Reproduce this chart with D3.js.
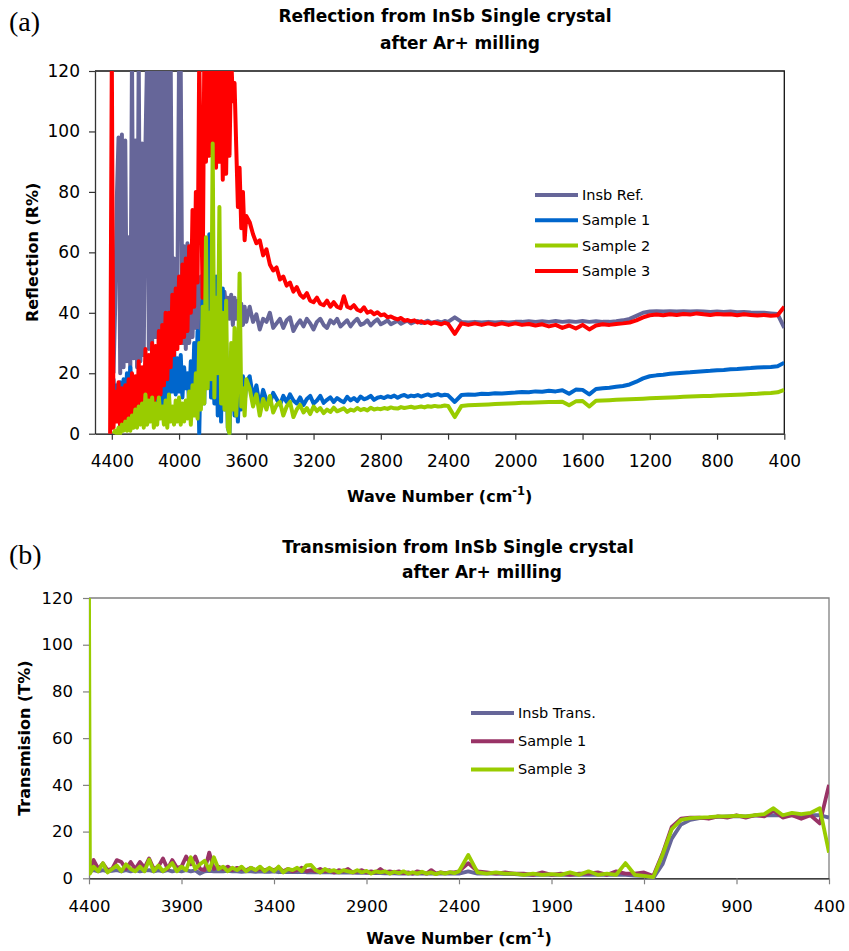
<!DOCTYPE html>
<html>
<head>
<meta charset="utf-8">
<script src="https://cdn.jsdelivr.net/npm/d3@7"></script>
<style>
    body { margin: 0; background: #fff; }
    svg text { font-family: "DejaVu Sans", sans-serif; fill: #000; }
</style>
</head>
<body>
<svg width="849" height="951"></svg>
<script>
// ---- panel (a): reflection, wave numbers in cm-1 ----
var reflWave = [
    4410,
    4400, 4390, 4380, 4370, 4360, 4350, 4340, 4330, 4320, 4310,
    4300, 4290, 4280, 4270, 4260, 4250, 4240, 4230, 4220, 4210,
    4200, 4190, 4180, 4170, 4160, 4150, 4140, 4130, 4120, 4110,
    4100, 4090, 4080, 4070, 4060, 4050, 4040, 4030, 4020, 4010,
    4000, 3990, 3980, 3970, 3960, 3950, 3940, 3930, 3920, 3910,
    3900, 3890, 3880, 3870, 3860, 3850, 3840, 3830, 3820, 3810,
    3800, 3790, 3780, 3770, 3760, 3750, 3740, 3730, 3720, 3710,
    3700, 3690, 3680, 3670, 3660, 3650, 3640, 3630, 3620, 3610,
    3600,
    3580, 3560, 3540, 3520, 3500, 3480, 3460, 3440, 3420, 3400,
    3380, 3360, 3340, 3320, 3300, 3280, 3260, 3240, 3220, 3200,
    3180, 3160, 3140, 3120, 3100, 3080, 3060, 3040, 3020, 3000,
    2980, 2960, 2940, 2920, 2900, 2880, 2860, 2840, 2820, 2800,
    2780, 2760, 2740, 2720, 2700, 2680, 2660, 2640, 2620, 2600,
    2580, 2560, 2540, 2520, 2500, 2480, 2460, 2440, 2420, 2400,
    2360, 2320, 2280, 2240, 2200, 2160, 2120, 2080, 2040, 2000,
    1960, 1920, 1880, 1840, 1800, 1760, 1720, 1680, 1640, 1600,
    1560, 1520, 1480, 1440, 1400, 1360, 1320, 1280, 1240, 1200,
    1160, 1120, 1080, 1040, 1000, 960, 920, 880, 840, 800,
    760, 720, 680, 640, 600, 560, 520, 480, 440, 400
];
var reflInsbRef = [
    null,
    null, 20, 42, 78, 98, 20, 99, 22, 97, 24,
    65, 20, 125, 25, 97, 22, 125, 24, 96, 26,
    95, 125, 28, 125, 30, 125, 32, 125, 30, 125,
    34, 125, 35, 125, 33, 125, 38, 58, 30, 45,
    125, 120, 30, 62, 28, 63, 30, 52, 32, 50,
    35, 50, 25, 52, 30, 48, 35, 50, 38, 48,
    40, 50, 38, 47, 41, 46, 39, 47, 42, 45,
    38, 46, 36, 45, 38, 44, 35, 43, 36, 42,
    37,
    42, 37, 39.5, 34.5, 38, 37, 40, 35, 36.5, 38,
    35, 37.5, 38.5, 34, 36, 37.5, 35.5, 38, 36.5, 34.5,
    37, 38, 36, 35, 37.5, 36.5, 38, 35.5, 36.5, 37.5,
    35.5, 37, 38, 36, 36.5, 37.5, 35.8, 37, 37.8, 36.2,
    36.8, 37.5, 36.2, 36.8, 37.4, 36.4, 37, 37.4, 36.5, 37,
    37.3, 36.6, 36.9, 37.4, 36.7, 37, 37.2, 36.8, 37.3, 37,
    38.5, 37, 36.8, 37, 36.8, 37, 36.8, 37, 36.8, 37,
    37, 37.2, 37, 37.2, 37, 37.3, 37, 37.2, 37, 37.3,
    37, 37.2, 37, 37, 37.2, 37.5, 38, 39, 40, 40.4,
    40.5, 40.4, 40.5, 40.4, 40.5, 40.4, 40.5, 40.4, 40.3, 40.4,
    40.3, 40.4, 40.2, 40.3, 40.1, 40, 40, 39.8, 39.6, 35
];
var reflSample1 = [
    null,
    5, 18, 6, 16, 8, 17, 5, 18, 7, 20,
    8, 22, 6, 15, 9, 18, 7, 19, 8, 16,
    6, 14, 5, 16, 7, 18, 6, 17, 8, 20,
    9, 22, 10, 24, 12, 26, 14, 29, 13, 25,
    14, 26, 12, 22, 15, 20, 10, 24, 8, 30,
    12, 34, 0, 28, 44, 10, 40, 20, 66, 12,
    30, 10, 52, 6, 50, 4, 48, 8, 30, 2,
    0, 20, 28, 6, 16, 4, 18, 8, 19, 10,
    17,
    19, 12, 16, 9, 14.5, 11, 10, 13.5, 11.5, 9.5,
    12.5, 10.5, 13, 11, 10, 12, 9.5, 11.5, 12.5, 10,
    11, 12.5, 10.2, 11.2, 12, 10.5, 11.8, 11, 10.4, 12.2,
    11, 11.8, 10.8, 12.3, 11.4, 11.8, 12.5, 11.2, 11.9, 12.2,
    11.8, 12.4, 12.1, 12.6, 11.9, 12.5, 12.8, 12.2, 12.6, 12.4,
    12.8, 12.3, 12.7, 13, 12.5, 12.8, 13.1, 12.6, 12.9, 12.7,
    10.5, 12.8, 13, 12.9, 13.2, 13.1, 13.4, 13.3, 13.5, 13.6,
    13.8, 13.7, 14, 13.9, 14.2, 14, 14.4, 13.2, 14.6, 14.5,
    13, 14.8, 15, 15.2, 15.5, 15.8, 16.3, 17.2, 18.3, 19,
    19.3, 19.5, 19.8, 20, 20.2, 20.3, 20.5, 20.7, 20.8, 21,
    21.1, 21.3, 21.4, 21.6, 21.7, 21.9, 22, 22.1, 22.3, 23.5
];
var reflSample2 = [
    null,
    null, 0, 1, 0, 2, 0, 3, 1, 4, 1,
    5, 1, 6, 2, 8, 2, 9, 3, 10, 2,
    13, 3, 11, 4, 12, 2, 10, 3, 12, 5,
    9, 3, 11, 2, 13, 4, 9, 3, 11, 4,
    12, 3, 10, 4, 11, 5, 14, 3, 16, 6,
    20, 5, 30, 8, 42, 10, 65, 15, 40, 18,
    96, 12, 45, 20, 75, 10, 40, 8, 44, 2,
    0, 30, 8, 35, 6, 20, 53, 9, 15, 6,
    18,
    15, 9, 13, 6, 11.5, 8, 12.5, 7, 9.5, 10.5,
    6, 9, 10.5, 5.5, 8, 9.5, 7, 8.5, 6.5, 9,
    7.5, 8.5, 6.8, 8, 7.2, 8.6, 7.4, 7.9, 8.4, 7.2,
    8, 7.6, 8.5, 7.8, 8.2, 7.7, 8.6, 8, 8.3, 8.1,
    8.5, 8.2, 8.7, 8.4, 8.3, 8.8, 8.5, 8.7, 8.9, 8.6,
    8.8, 9, 8.7, 9.1, 8.9, 9.2, 9, 9.1, 9.3, 9.2,
    5.5, 9.2, 9.4, 9.5, 9.6, 9.7, 9.8, 9.9, 10, 10.1,
    10.2, 10.2, 10.3, 10.4, 10.5, 10.5, 10.6, 9.4, 10.7, 10.8,
    9, 10.9, 11, 11.1, 11.2, 11.3, 11.4, 11.5, 11.6, 11.7,
    11.8, 11.9, 12, 12.1, 12.2, 12.3, 12.4, 12.5, 12.5, 12.6,
    12.7, 12.8, 12.9, 13, 13.1, 13.2, 13.4, 13.5, 13.7, 14.5
];
var reflSample3 = [
    0,
    125, 2, 14, 4, 17, 1, 15, 3, 16, 2,
    18, 3, 20, 4, 19, 5, 24, 4, 22, 6,
    28, 7, 26, 9, 30, 8, 29, 12, 34, 13,
    36, 16, 40, 18, 40, 22, 46, 26, 48, 28,
    52, 30, 56, 32, 58, 34, 62, 40, 74, 42,
    80, 50, 125, 85, 45, 125, 90, 125, 92, 125,
    95, 125, 88, 125, 90, 125, 84, 125, 86, 125,
    92, 125, 110, 116, 95, 75, 88, 68, 80, 64,
    72,
    70, 66, 63, 64, 59, 61, 56, 54, 55, 51,
    52, 49, 50, 47, 48.5, 46, 45, 46.5, 44, 43.5,
    45, 43, 42.5, 44, 42, 43.5, 42, 41.5, 45.5, 42,
    41.5, 42.5, 41, 40.5, 41.8, 40, 40.5, 39.5, 40.2, 39.2,
    39.5, 38.5, 38.8, 38.2, 37.8, 38.3, 37.4, 37.6, 37.2, 37.5,
    36.8, 37.2, 36.6, 36.9, 36.4, 36.8, 36.5, 36.2, 36.7, 36.3,
    33, 36.5, 36, 36.5, 36, 36.5, 36, 36.5, 36, 36.5,
    36, 36.3, 35.8, 36.2, 35.5, 36, 35, 35.8, 34.8, 36,
    34.5, 35.8, 36.2, 36, 36.3, 36.5, 36.8, 37.5, 38.5, 39.2,
    39.4, 39.2, 39.5, 39.3, 39.6, 39.4, 39.8, 39.5, 39.3, 39.6,
    39.4, 39.5, 39.2, 39.5, 39.3, 39.1, 39.3, 39, 39.2, 42
];
var reflXTicks = [4400, 4000, 3600, 3200, 2800, 2400, 2000, 1600, 1200, 800, 400];
var reflLegend = ["Insb Ref.", "Sample 1", "Sample 2", "Sample 3"];

// ---- panel (b): transmision ----
var transWave = [
    4400, 4395, 4375, 4350, 4325, 4300, 4275, 4250, 4225, 4200,
    4175, 4150, 4125, 4100, 4075, 4050, 4025, 4000, 3975, 3950,
    3925, 3900, 3875, 3850, 3825, 3800, 3775, 3750, 3725, 3700,
    3675, 3650, 3625, 3600, 3575, 3550, 3525, 3500, 3475, 3450,
    3425, 3400, 3375, 3350, 3325, 3300, 3275, 3250, 3225, 3200,
    3175, 3150, 3125, 3100, 3075, 3050, 3025, 3000, 2975, 2950,
    2925, 2900, 2875, 2850, 2825, 2800, 2775, 2750, 2725, 2700,
    2675, 2650, 2625, 2600, 2575, 2550, 2525, 2500, 2475, 2450,
    2425, 2400,
    2350, 2300, 2250, 2200, 2150, 2100, 2050, 2000, 1950, 1900,
    1850, 1800, 1750, 1700, 1650, 1600, 1550, 1500, 1450, 1400,
    1350, 1300, 1250, 1200, 1150, 1100, 1050, 1000, 950, 900,
    850, 800, 750, 700, 650, 600, 550, 500, 450, 400
];
var transInsb = [
    2, 3, 3.5, 3, 3.5, 3, 3.2, 3.5, 3, 3.5,
    3, 3.5, 3, 3.3, 3.5, 3, 3.4, 3, 3.5, 3,
    3.4, 3, 3.5, 3, 3.4, 2, 3, 3.2, 3, 3,
    3, 3.2, 3, 3, 2.8, 3, 3, 2.8, 3, 2.8,
    2.8, 3, 2.6, 2.8, 2.7, 2.8, 2.6, 2.7, 2.6, 2.6,
    2.5, 2.6, 2.5, 2.5, 2.4, 2.5, 2.4, 2.4, 2.4, 2.3,
    2.3, 2.3, 2.2, 2.2, 2.2, 2.1, 2.1, 2.1, 2, 2,
    2, 2, 2, 2, 2, 2, 2, 2, 2, 2,
    2, 2,
    3, 2, 2, 2, 1.8, 1.8, 1.5, 1.5, 1.5, 1.5,
    1.5, 1.5, 1.5, 1.5, 1.5, 1.5, 1.5, 1.5, 1.2, 1,
    0, 6, 17, 23, 25, 25.8, 26, 26.3, 26.5, 26.5,
    26.5, 26.8, 27, 27, 27, 27, 27, 27, 27, 26
];
var transSample1 = [
    2, 4, 7.8, 4, 6.4, 3.5, 4, 7.8, 7, 4,
    7, 4, 7, 4.5, 8.5, 4, 5, 8.5, 4, 7.8,
    4.5, 5, 9.3, 6, 9.3, 4, 3.5, 11, 4, 5,
    4, 5, 3.5, 4.5, 4, 3.5, 4.5, 3.5, 4, 3.5,
    4, 3.5, 4.5, 3, 4, 3, 3.5, 4.5, 3, 3.5,
    3, 4, 3, 3.5, 2.5, 3.5, 3, 4, 2.5, 3,
    3.5, 2.5, 3, 2.5, 4, 2.5, 3, 2.5, 3, 2.2,
    2.5, 2, 3, 2.5, 2, 3.5, 2, 2.5, 2.2, 2.5,
    2.5, 3,
    6.5, 3, 2.5, 2, 2.5, 2, 2, 1.5, 2.5, 1.5,
    2, 1.5, 2, 2, 2.5, 1.5, 3, 2, 2, 2.5,
    1, 10.5, 22, 25.5, 26, 26, 25.5, 26.5, 26, 27,
    26, 27, 26.5, 29, 26, 27, 25.5, 27, 23.5, 40
];
var transSample3 = [
    125, 2, 5, 3, 6.5, 2.5, 4, 5.5, 3, 6,
    4, 3, 5, 3, 8, 3, 5.5, 3, 4.5, 6.5,
    3, 5, 3.5, 9, 4, 6, 7.5, 3.5, 9, 4,
    5, 3, 4.5, 3.5, 5, 3, 4.5, 3.5, 5, 3,
    4.5, 3, 5, 2.5, 4, 3.5, 4.5, 3, 5.5, 5.7,
    3.5, 2.5, 4, 3, 3.5, 2.5, 3.5, 3, 2.5, 3.5,
    2.5, 3.2, 2, 3, 2.5, 3, 2, 2.8, 2.2, 3,
    2, 2.6, 2, 2.8, 2, 2.5, 1.8, 2.5, 2, 2.6,
    2.2, 3,
    10, 2.5, 2, 2.5, 2, 2, 1.5, 2, 1.5, 1.8,
    1.5, 2.5, 1.5, 3, 1.5, 2, 1.5, 6.5, 1.5, 1,
    0.5, 10, 21, 25, 25.8, 26, 26.2, 26.5, 26.5, 26.8,
    26.5, 27, 27.5, 30, 27, 28, 27.5, 28, 30, 11
];
var transXTicks = [4400, 3900, 3400, 2900, 2400, 1900, 1400, 900, 400];
var transLegend = ["Insb Trans.", "Sample 1", "Sample 3"];

var yTicks = [0, 20, 40, 60, 80, 100, 120];

var svg = d3.select("svg");

/**
 * Draws one framed spectrum panel.
 */
function drawPanel(p) {
    var x = d3.scaleLinear().domain(p.xDomain).range([p.left, p.right]);
    var y = d3.scaleLinear().domain([0, 120]).range([p.bottom, p.top]);
    var g = svg.append("g");

    g.append("clipPath").attr("id", p.id + "-clip")
        .append("rect")
        .attr("x", p.left)
        .attr("y", p.top)
        .attr("width", p.right - p.left)
        .attr("height", p.bottom - p.top + 1);

    // frame: top and right
    g.append("path")
        .attr("d", "M" + p.left + "," + p.top + "H" + p.right + "V" + p.bottom)
        .attr("fill", "none")
        .attr("stroke", p.frameColor)
        .attr("stroke-width", 1.3);

    var yAxis = g.append("g")
        .attr("transform", "translate(" + p.left + ",0)")
        .call(d3.axisLeft(y).tickValues(yTicks).tickSize(6).tickSizeOuter(0).tickPadding(p.yPad));
    var xAxis = g.append("g")
        .attr("transform", "translate(0," + p.bottom + ")")
        .call(d3.axisBottom(x).tickValues(p.xTicks).tickFormat(d3.format("d")).tickSize(6).tickSizeOuter(0).tickPadding(p.xPad));

    yAxis.select(".domain").attr("stroke", p.yAxisColor).attr("stroke-width", 1.3);
    yAxis.selectAll(".tick line").attr("stroke", p.yAxisColor).attr("stroke-width", 1.2);
    xAxis.select(".domain").attr("stroke", "#000").attr("stroke-width", 1.3);
    xAxis.selectAll(".tick line").attr("stroke", p.xTickColor).attr("stroke-width", 1.2);
    g.selectAll(".tick text")
        .style("font-family", "'DejaVu Sans', sans-serif")
        .style("font-size", p.tickFont + "px")
        .attr("fill", "#000");

    var line = d3.line()
        .defined(function(d) { return d.v != null; })
        .x(function(d) { return x(d.w); })
        .y(function(d) { return y(d.v); });

    var plot = g.append("g").attr("clip-path", "url(#" + p.id + "-clip)");
    p.series.forEach(function(s) {
        var pts = p.wave.map(function(w, i) { return { w: w, v: s.values[i] }; });
        plot.append("path")
            .datum(pts)
            .attr("d", line)
            .attr("fill", "none")
            .attr("stroke", s.color)
            .attr("stroke-width", p.lineWidth)
            .attr("stroke-linejoin", "round")
            .attr("stroke-linecap", "butt");
    });

    // legend, kept in series order
    var leg = g.append("g");
    p.legendOrder.forEach(function(s, i) {
        var ly = p.legendY + i * p.legendStep;
        leg.append("line")
            .attr("x1", p.legendX)
            .attr("x2", p.legendX + 43)
            .attr("y1", ly)
            .attr("y2", ly)
            .attr("stroke", s.color)
            .attr("stroke-width", 4);
        leg.append("text")
            .attr("x", p.legendX + 47)
            .attr("y", ly + 5)
            .style("font-size", "14.5px")
            .text(s.name);
    });

    // titles and labels
    p.title.forEach(function(t) {
        g.append("text")
            .attr("x", t.x)
            .attr("y", t.y)
            .attr("text-anchor", "middle")
            .style("font-size", "17px")
            .style("font-weight", "bold")
            .text(t.text);
    });

    g.append("text")
        .attr("transform", "translate(" + p.yLabelX + "," + ((p.top + p.bottom) / 2) + ") rotate(-90)")
        .attr("text-anchor", "middle")
        .style("font-size", "16px")
        .style("font-weight", "bold")
        .text(p.yLabel);

    var xl = g.append("text")
        .attr("x", (p.left + p.right) / 2)
        .attr("y", p.xLabelY)
        .attr("text-anchor", "middle")
        .style("font-size", "16px")
        .style("font-weight", "bold");
    xl.append("tspan").text("Wave Number (cm");
    xl.append("tspan").attr("dy", -7).style("font-size", "11.5px").text("-1");
    xl.append("tspan").attr("dy", 7).text(")");

    g.append("text")
        .attr("x", 9)
        .attr("y", p.tagY)
        .style("font-family", "'Liberation Serif', 'Times New Roman', serif")
        .style("font-size", "28px")
        .text(p.tag);
}

var reflSeries = [
    { name: reflLegend[0], color: "#666699", values: reflInsbRef },
    { name: reflLegend[1], color: "#0066CC", values: reflSample1 },
    { name: reflLegend[2], color: "#99CC00", values: reflSample2 },
    { name: reflLegend[3], color: "#FF0000", values: reflSample3 }
];

drawPanel({
    id: "refl",
    wave: reflWave,
    xDomain: [4500, 400],
    xTicks: reflXTicks,
    left: 95, right: 784.3, top: 71, bottom: 433.7,
    frameColor: "#111", yAxisColor: "#333", xTickColor: "#333",
    yPad: 9, xPad: 15, tickFont: 17, lineWidth: 4,
    series: [reflSeries[0], reflSeries[1], reflSeries[3], reflSeries[2]],
    legendOrder: reflSeries,
    legendX: 535, legendY: 195, legendStep: 25.3,
    title: [
        { text: "Reflection from InSb Single crystal", x: 445, y: 22 },
        { text: "after Ar+ milling", x: 460, y: 49 }
    ],
    yLabel: "Reflection (R%)", yLabelX: 38,
    xLabelY: 502,
    tag: "(a)", tagY: 31
});

var transSeries = [
    { name: transLegend[0], color: "#666699", values: transInsb },
    { name: transLegend[1], color: "#993366", values: transSample1 },
    { name: transLegend[2], color: "#99CC00", values: transSample3 }
];

drawPanel({
    id: "trans",
    wave: transWave,
    xDomain: [4400, 400],
    xTicks: transXTicks,
    left: 89, right: 829, top: 598, bottom: 878.3,
    frameColor: "#808080", yAxisColor: "#808080", xTickColor: "#808080",
    yPad: 10, xPad: 16, tickFont: 16.5, lineWidth: 3.8,
    series: transSeries,
    legendOrder: transSeries,
    legendX: 471, legendY: 713, legendStep: 28.2,
    title: [
        { text: "Transmision from InSb Single crystal", x: 458, y: 553 },
        { text: "after Ar+ milling", x: 482, y: 578 }
    ],
    yLabel: "Transmision (T%)", yLabelX: 30,
    xLabelY: 944,
    tag: "(b)", tagY: 564
});
</script>
</body>
</html>
